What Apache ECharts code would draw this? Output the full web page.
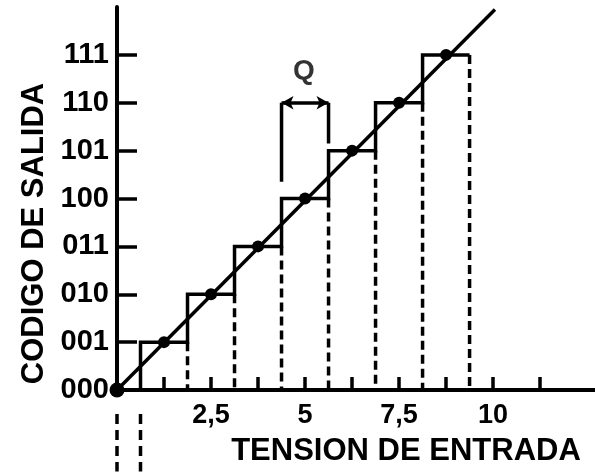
<!DOCTYPE html>
<html>
<head>
<meta charset="utf-8">
<script src="https://cdn.jsdelivr.net/npm/echarts@6.0.0/dist/echarts.min.js"></script>
<style>
html,body{margin:0;padding:0;background:#fff;}
#chart{width:595px;height:472px;}
</style>
</head>
<body>
<div id="chart"></div>
<script>
// ---- data ----
const codes = ['000','001','010','011','100','101','110','111'];
const xTickValues = [1.25, 2.5, 3.75, 5, 6.25, 7.5, 8.75, 10, 11.25];
const xLabelValues = [2.5, 5, 7.5, 10];
const xTickLabels = ['2,5', '5', '7,5', '10'];
const yTickValues = [1, 2, 3, 4, 5, 6, 7];
const yLabelValues = [0, 1, 2, 3, 4, 5, 6, 7];
// transition voltages of the staircase (V) and the code reached
const stepX = [0, 0.625, 1.875, 3.125, 4.375, 5.625, 6.875, 8.125, 9.375];
const stepCode = [0, 1, 2, 3, 4, 5, 6, 7];
// ideal points (centre of each code)
const dotX = [1.25, 2.5, 3.75, 5, 6.25, 7.5, 8.75];
const dotCode = [1, 2, 3, 4, 5, 6, 7];
const originDot = [0, 0];
// ideal transfer line
const idealX = [0, 10.05];
const idealY = [0, 7.95];
// dashed verticals: x position and top code
const dashX = [1.875, 3.125, 4.375, 5.625, 6.875, 8.125, 9.375];
const dashTop = [1, 2, 3, 4, 5, 6, 7];
// dashed marks below the axis
const belowDashX = [0, 0.625];
const belowDashY = [-0.5, -1.7];
// Q annotation
const qX = [4.375, 5.625];
const qLevel = 6;
const qBottom = [4.35, 5.15];
const qLabelPos = [4.97, 6.66];

// ---- build series ----
const stairs = [];
for (let i = 0; i < stepCode.length; i++) {
  stairs.push([stepX[i], stepCode[i]]);
  stairs.push([stepX[i + 1], stepCode[i]]);
  if (i + 1 < stepCode.length) stairs.push([stepX[i + 1], stepCode[i + 1]]);
}
const black = '#000';
const series = [];
series.push({
  type: 'line', data: idealX.map((x, i) => [x, idealY[i]]),
  showSymbol: false, lineStyle: {color: black, width: 3.5}, silent: true, z: 3
});
series.push({
  type: 'line', data: stairs, showSymbol: false,
  lineStyle: {color: black, width: 3.5, join: 'miter'}, silent: true, z: 3
});
dashX.forEach((x, i) => {
  series.push({
    type: 'line', data: [[x, dashTop[i]], [x, 0]], showSymbol: false,
    lineStyle: {color: black, width: 3.5, type: [9, 5]}, silent: true, z: 2
  });
});
belowDashX.forEach(x => {
  series.push({
    type: 'line', data: [[x, belowDashY[0]], [x, belowDashY[1]]], showSymbol: false,
    clip: false, lineStyle: {color: black, width: 3.5, type: [10, 6]}, silent: true, z: 2
  });
});
qX.forEach((x, i) => {
  series.push({
    type: 'line', data: [[x, qBottom[i]], [x, qLevel]], showSymbol: false,
    lineStyle: {color: black, width: 3.5}, silent: true, z: 3
  });
});
series.push({
  type: 'line', data: [], silent: true,
  markLine: {
    silent: true, symbol: ['arrow', 'arrow'], symbolSize: [10, 12],
    label: {show: false},
    lineStyle: {color: black, width: 3.5, type: 'solid'},
    data: [[{coord: [qX[0], qLevel]}, {coord: [qX[1], qLevel]}]]
  }
});
series.push({
  type: 'scatter', data: dotX.map((x, i) => [x, dotCode[i]]),
  symbolSize: 12, itemStyle: {color: black, opacity: 1}, silent: true, z: 5
});
series.push({
  type: 'scatter', data: [originDot], symbolSize: 15, clip: false,
  itemStyle: {color: black, opacity: 1}, silent: true, z: 5
});
series.push({
  type: 'scatter', data: [qLabelPos], symbolSize: 0, silent: true,
  label: {show: true, position: 'inside', formatter: 'Q', color: black,
    fontSize: 28, fontWeight: 'bold', fontFamily: 'Liberation Sans'}
});

const font = 'Liberation Sans';
const option = {
  backgroundColor: '#fff',
  animation: false,
  grid: {left: 117, right: 0, top: 7, bottom: 79, containLabel: false},
  xAxis: {
    type: 'value', min: 0, max: 12.71,
    name: 'TENSION DE ENTRADA', nameLocation: 'middle', nameGap: 46,
    nameTextStyle: {color: black, fontSize: 31, fontWeight: 'bold', fontFamily: font, padding: [0, 0, 0, 100]},
    axisLine: {show: true, onZero: false, lineStyle: {color: black, width: 4}},
    axisTick: {show: true, inside: true, length: 13, customValues: xTickValues, lineStyle: {color: black, width: 3.5}},
    axisLabel: {show: true, margin: 12, customValues: xLabelValues, color: black, fontSize: 27, fontWeight: 'bold', fontFamily: font,
      formatter: v => { const k = xLabelValues.indexOf(v); return k >= 0 ? xTickLabels[k] : ''; }},
    splitLine: {show: false}
  },
  yAxis: {
    type: 'value', min: 0, max: 8,
    name: 'CODIGO DE SALIDA', nameLocation: 'middle', nameGap: 67, nameRotate: 90,
    nameTextStyle: {color: black, fontSize: 31, fontWeight: 'bold', fontFamily: font, padding: [0, 70, 0, 0]},
    axisLine: {show: true, onZero: false, lineStyle: {color: black, width: 4}},
    axisTick: {show: true, inside: true, length: 20, customValues: yTickValues, lineStyle: {color: black, width: 3.5}},
    axisLabel: {show: true, margin: 8, customValues: yLabelValues, color: black, fontSize: 29, fontWeight: 'bold', fontFamily: font,
      formatter: v => codes[v] || ''},
    splitLine: {show: false}
  },
  series: series
};
const chart = echarts.init(document.getElementById('chart'), null, {renderer: 'canvas'});
chart.setOption(option);
</script>
</body>
</html>
